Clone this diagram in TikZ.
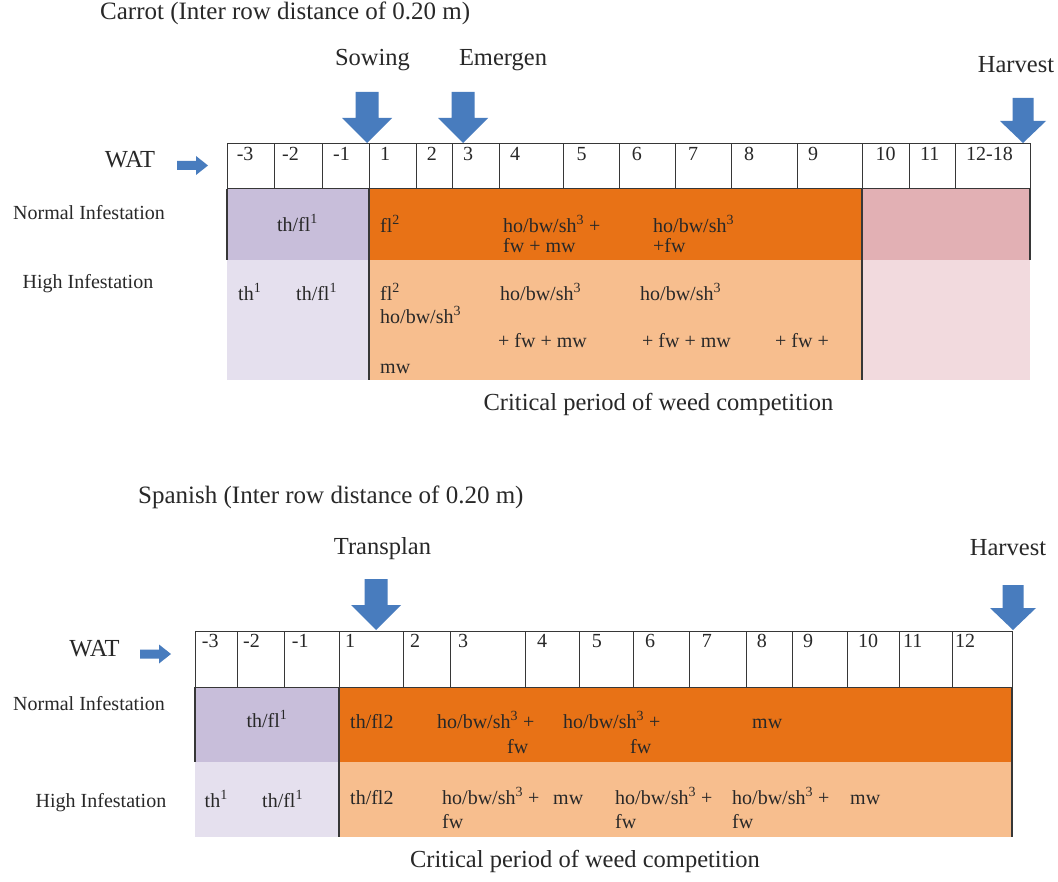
\documentclass[tikz,border=0pt]{standalone}
\usepackage{fontspec}
\setmainfont{Liberation Serif}
\definecolor{txt}{RGB}{40,40,40}
\definecolor{linec}{RGB}{55,55,55}
\definecolor{purpleN}{RGB}{200,190,218}
\definecolor{purpleH}{RGB}{229,224,238}
\definecolor{orangeN}{RGB}{232,114,22}
\definecolor{orangeH}{RGB}{247,190,142}
\definecolor{pinkN}{RGB}{226,176,180}
\definecolor{pinkH}{RGB}{242,218,222}
\definecolor{arrowblue}{RGB}{72,124,190}
\begin{document}
\begin{tikzpicture}[x=1pt,y=-1pt,
  every node/.style={inner sep=0pt, text=txt},
  cell/.style={font=\fontsize{20}{22}\selectfont, anchor=west, text height=.68em, text depth=.18em},
  ccell/.style={cell, anchor=center},
  big/.style={font=\fontsize{24.5}{27}\selectfont, text height=.68em, text depth=.18em},
  ttl/.style={font=\fontsize{25}{27}\selectfont, anchor=west, text height=.68em, text depth=.18em},
  grid/.style={draw=linec, line width=1pt},
  divl/.style={draw=linec, line width=1.6pt},
  arrfill/.style={fill=arrowblue, draw=none},
  darrow/.pic={\path[arrfill] (-11.5,-51) -- (11.5,-51) -- (11.5,-25) -- (25,-25) -- (0,0) -- (-25,-25) -- (-11.5,-25) -- cycle;},
  harrow/.pic={\path[arrfill] (-10.5,-45) -- (10.5,-45) -- (10.5,-22) -- (23,-22) -- (0,0) -- (-23,-22) -- (-10.5,-22) -- cycle;},
  rarrow/.pic={\path[arrfill] (0,-4.5) -- (19,-4.5) -- (19,-9.5) -- (31,0) -- (19,9.5) -- (19,4.5) -- (0,4.5) -- cycle;}
]
\fill[white] (0,0) rectangle (1058,882);
\useasboundingbox (0,0) rectangle (1058,882);

% ================= TOP CHART =================
\node[ttl] (ttop) at (100,17) {Carrot (Inter row distance of 0.20 m)};
\node[big] (sow) at (372.5,63) {Sowing};
\node[big] (emg) at (503,63) {Emergen};
\node[big] (hv1) at (1016,70) {Harvest};
\pic at (367,143) {darrow};
\pic at (463,143) {darrow};
\pic at (1023,143) {harrow};
\node[big] (wat1) at (130,165.5) {WAT};
\pic at (177,165.5) {rarrow};
\node[cell, anchor=center] (ni1) at (89,217) {Normal Infestation};
\node[cell, anchor=center] (hi1) at (88,286) {High Infestation};

\fill[purpleN] (227,189) rectangle (369,260);
\fill[orangeN] (369,189) rectangle (862,260);
\fill[pinkN] (862,189) rectangle (1030,260);
\fill[purpleH] (227,260) rectangle (369,380);
\fill[orangeH] (369,260) rectangle (862,380);
\fill[pinkH] (862,260) rectangle (1030,380);
\draw[divl] (227,189) -- (227,260);
\draw[divl] (369,189) -- (369,380);
\draw[divl] (862,189) -- (862,380);
\draw[divl] (1030,189) -- (1030,260);

\draw[grid, fill=white] (227,144) rectangle (1030,189);
\foreach \x in {274,322,369,416,452,499,563,619,675,731,797,862,909,955}
  \draw[grid] (\x,144) -- (\x,189);
\foreach \x/\t [count=\i] in {236.6/-3,282/-2,333/-1,380/1,426.6/2,463/3,510/4,576.5/5,631.7/6,688/7,743.8/8,807.8/9,875.4/10,920/11,966/12-18}
  \node[cell, name=tn\i] at (\x,158) {\t};

% normal row texts
\node[ccell] (a1) at (297.5,229) {th/fl\textsuperscript{1}};
\node[cell] (a2) at (380,230) {fl\textsuperscript{2}};
\node[cell] (a3) at (503,230) {ho/bw/sh\textsuperscript{3} +};
\node[cell] (a4) at (503,250) {fw + mw};
\node[cell] (a5) at (653,230) {ho/bw/sh\textsuperscript{3}};
\node[cell] (a6) at (653,250) {+fw};
% high row texts
\node[cell] (b1) at (238,298) {th\textsuperscript{1}};
\node[cell] (b2) at (296,298) {th/fl\textsuperscript{1}};
\node[cell] (b3) at (380,298) {fl\textsuperscript{2}};
\node[cell] (b4) at (380,321) {ho/bw/sh\textsuperscript{3}};
\node[cell] (b5) at (380,371) {mw};
\node[cell] (b6) at (500,298) {ho/bw/sh\textsuperscript{3}};
\node[cell] (b7) at (640,298) {ho/bw/sh\textsuperscript{3}};
\node[cell] (b8) at (498,345) {+ fw + mw};
\node[cell] (b9) at (642,345) {+ fw + mw};
\node[cell] (b10) at (775,345) {+ fw +};
\node[big] (crit1) at (658.5,408) {Critical period of weed competition};

% ================= BOTTOM CHART =================
\node[ttl] (tbot) at (138,501) {Spanish (Inter row distance of 0.20 m)};
\node[big] (trp) at (382.5,552) {Transplan};
\node[big] (hv2) at (1008,553) {Harvest};
\pic at (376,630) {darrow};
\pic at (1013,630) {harrow};
\node[big] (wat2) at (94.5,654) {WAT};
\pic at (140,654) {rarrow};
\node[cell, anchor=center] (ni2) at (89,708) {Normal Infestation};
\node[cell, anchor=center] (hi2) at (101,805) {High Infestation};

\fill[purpleN] (195,687) rectangle (339,762);
\fill[orangeN] (339,687) rectangle (1012,762);
\fill[purpleH] (195,762) rectangle (339,837);
\fill[orangeH] (339,762) rectangle (1012,837);
\draw[divl] (195,687) -- (195,762);
\draw[divl] (339,687) -- (339,837);
\draw[divl] (1012,687) -- (1012,837);

\draw[grid, fill=white] (195,631) rectangle (1012,687);
\foreach \x in {237,284,339,403,450,525,579,633,689,746,792,847,899,952}
  \draw[grid] (\x,631) -- (\x,687);
\foreach \x/\t [count=\i] in {201.7/-3,243/-2,291.7/-1,345/1,410/2,458/3,537/4,591.7/5,645/6,701.7/7,756.7/8,803/9,858/10,903/11,955/12}
  \node[cell, name=bn\i] at (\x,645) {\t};

% normal row texts
\node[ccell] (c1) at (267,725) {th/fl\textsuperscript{1}};
\node[cell] (c2) at (350,726) {th/fl2};
\node[cell] (c3) at (437,726) {ho/bw/sh\textsuperscript{3} +};
\node[cell] (c4) at (507,751) {fw};
\node[cell] (c5) at (563,726) {ho/bw/sh\textsuperscript{3} +};
\node[cell] (c6) at (630,751) {fw};
\node[cell] (c7) at (752,726) {mw};
% high row texts
\node[cell] (d1) at (204.5,805) {th\textsuperscript{1}};
\node[cell] (d2) at (262,805) {th/fl\textsuperscript{1}};
\node[cell] (d3) at (350,802) {th/fl2};
\node[cell] (d4) at (442,802) {ho/bw/sh\textsuperscript{3} +};
\node[cell] (d5) at (442,826) {fw};
\node[cell] (d6) at (553,802) {mw};
\node[cell] (d7) at (615,802) {ho/bw/sh\textsuperscript{3} +};
\node[cell] (d8) at (615,826) {fw};
\node[cell] (d9) at (732,802) {ho/bw/sh\textsuperscript{3} +};
\node[cell] (d10) at (732,826) {fw};
\node[cell] (d11) at (850,802) {mw};
\node[big] (crit2) at (585,865) {Critical period of weed competition};
\end{tikzpicture}
\end{document}
